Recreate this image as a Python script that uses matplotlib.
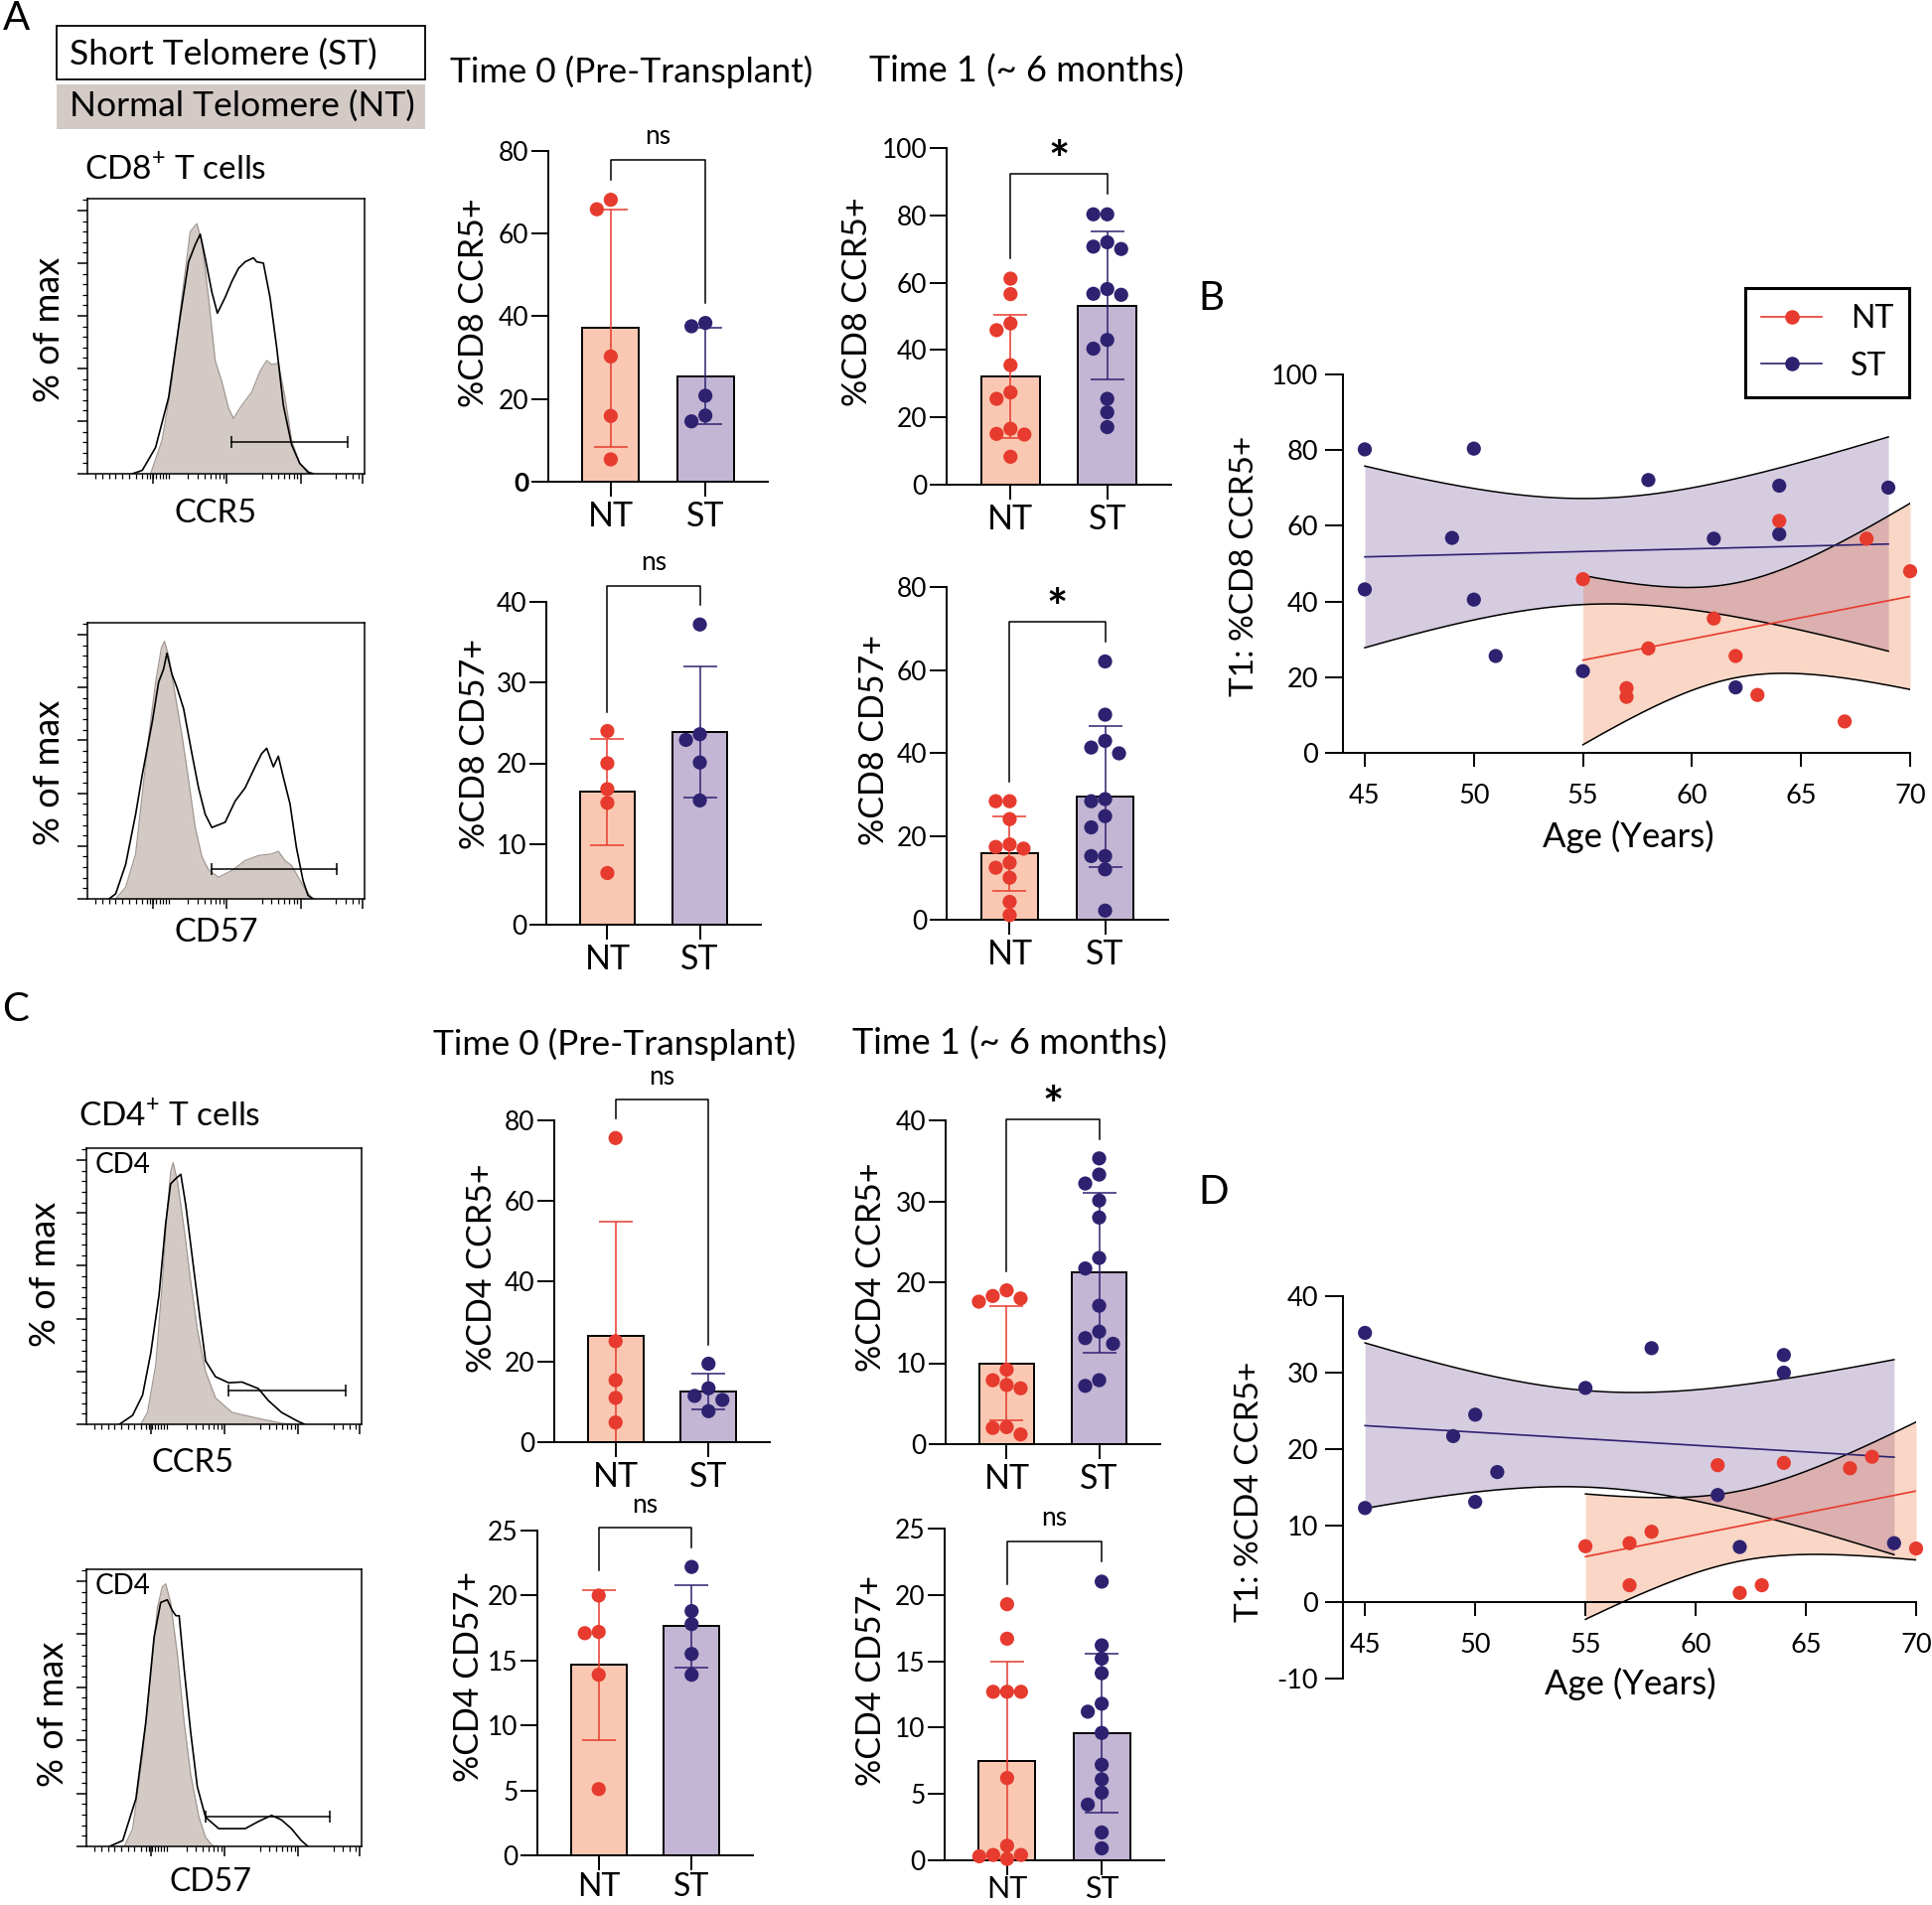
import numpy as np
import matplotlib
matplotlib.use("Agg")
import matplotlib.pyplot as plt
from matplotlib.lines import Line2D
from matplotlib.patches import Rectangle
from matplotlib.ticker import MultipleLocator

W, H = 1945, 1918
plt.rcParams['font.family'] = ['Lato', 'DejaVu Sans']
plt.rcParams['mathtext.fontset'] = 'custom'
plt.rcParams['mathtext.rm'] = 'Lato'
plt.rcParams['axes.linewidth'] = 1.4
plt.rcParams['axes.unicode_minus'] = False

RED = '#E63B2E'
NAVY = '#2E2270'
NT_FILL = '#FAC8B2'
ST_FILL = '#C3B5D4'
GREY = '#D3CAC6'
NT_BAND = '#EB5F1B'
ST_BAND = '#5F3787'

# ---------------- bar charts: % positive cells per patient ----------------
groups = ['NT', 'ST']
cd8_ccr5_t0_nt = [68.2, 65.9, 30.3, 15.9, 5.4]
cd8_ccr5_t0_st = [38.4, 37.6, 20.8, 16.0, 14.6]
cd8_ccr5_t1_nt = [61.2, 56.6, 47.9, 45.9, 35.5, 27.4, 25.5, 16.6, 15.1, 14.9, 8.3]
cd8_ccr5_t1_st = [80.3, 80.3, 72.0, 70.7, 70.0, 58.1, 56.7, 56.4, 43.0, 40.4, 25.5, 21.5, 17.1]
cd8_cd57_t0_nt = [24.0, 20.0, 16.8, 15.1, 6.4]
cd8_cd57_t0_st = [37.2, 23.6, 22.9, 20.1, 15.4]
cd8_cd57_t1_nt = [28.5, 28.5, 24.2, 18.1, 17.5, 17.1, 13.7, 12.5, 10.1, 4.3, 1.1]
cd8_cd57_t1_st = [62.1, 49.3, 43.0, 41.4, 40.0, 29.0, 28.5, 24.9, 22.2, 15.3, 15.3, 12.1, 2.2]
cd4_ccr5_t0_nt = [75.6, 25.1, 15.4, 11.0, 4.9]
cd4_ccr5_t0_st = [19.5, 13.4, 11.5, 10.5, 7.7]
cd4_ccr5_t1_nt = [19.0, 18.3, 18.0, 17.6, 9.2, 7.9, 7.3, 6.9, 2.1, 2.0, 1.2]
cd4_ccr5_t1_st = [35.3, 33.3, 32.2, 30.1, 28.0, 23.0, 21.7, 17.1, 13.9, 13.1, 12.4, 7.9, 7.2]
cd4_cd57_t0_nt = [20.0, 17.2, 17.1, 13.9, 5.1]
cd4_cd57_t0_st = [22.2, 18.8, 17.8, 15.5, 13.9]
cd4_cd57_t1_nt = [19.3, 16.7, 12.7, 12.7, 12.7, 6.2, 1.1, 0.4, 0.4, 0.3, 0.1]
cd4_cd57_t1_st = [21.0, 16.2, 15.2, 14.1, 11.8, 11.2, 9.6, 7.2, 6.1, 5.1, 4.2, 2.1, 0.9]
signif = {'cd8_ccr5_t0': 'ns', 'cd8_ccr5_t1': '*', 'cd8_cd57_t0': 'ns', 'cd8_cd57_t1': '*',
          'cd4_ccr5_t0': 'ns', 'cd4_ccr5_t1': '*', 'cd4_cd57_t0': 'ns', 'cd4_cd57_t1': 'ns'}

# ---------------- T1 CCR5+ vs age ----------------
cd8_nt_age = [55, 57, 57, 58, 61, 62, 63, 64, 67, 68, 70]
cd8_nt_val = [45.9, 17.1, 14.8, 27.6, 35.5, 25.6, 15.3, 61.3, 8.3, 56.6, 48.0]
cd8_st_age = [45, 45, 49, 50, 50, 51, 55, 58, 61, 62, 64, 64, 69]
cd8_st_val = [80.2, 43.2, 56.8, 80.4, 40.5, 25.6, 21.6, 72.1, 56.6, 17.3, 70.6, 57.8, 70.1]
cd4_nt_age = [55, 57, 57, 58, 61, 62, 63, 64, 67, 68, 70]
cd4_nt_val = [7.3, 7.7, 2.2, 9.2, 17.9, 1.2, 2.2, 18.2, 17.5, 19.0, 7.0]
cd4_st_age = [45, 45, 49, 50, 50, 51, 55, 58, 61, 62, 64, 64, 69]
cd4_st_val = [35.2, 12.3, 21.7, 24.5, 13.1, 17.0, 28.0, 33.2, 14.0, 7.2, 32.3, 30.0, 7.7]
T975 = {9: 2.262, 11: 2.201}

# ---------------- flow histograms (x = fraction of axis, y = % of max) ----------------
h_cd8_ccr5_nt_x = [0.228, 0.269, 0.305, 0.341, 0.371, 0.395, 0.413, 0.437, 0.461, 0.485, 0.509, 0.527,
                   0.557, 0.593, 0.623, 0.647, 0.665, 0.689, 0.713, 0.737, 0.766, 0.802, 0.820]
h_cd8_ccr5_nt_y = [0, 12.6, 35, 67, 92, 95, 88, 67, 43, 35, 25, 21, 26, 31, 39, 43, 41.5, 42, 29, 12.6, 3.8, 0.6, 0]
h_cd8_ccr5_st_x = [0.162, 0.198, 0.246, 0.293, 0.335, 0.365, 0.389, 0.407, 0.425, 0.449, 0.469, 0.497, 0.521,
                   0.545, 0.569, 0.599, 0.611, 0.635, 0.659, 0.683, 0.707, 0.737, 0.766, 0.796, 0.814]
h_cd8_ccr5_st_y = [0, 1.3, 10, 29, 60, 80.5, 87, 91, 82, 69, 61, 67, 73, 78, 80.5, 82, 80.5, 80, 67, 48, 26,
                   11, 4, 0.6, 0]
h_cd8_cd57_nt_x = [0.102, 0.138, 0.174, 0.198, 0.222, 0.246, 0.267, 0.278, 0.293, 0.317, 0.341, 0.365, 0.389,
                   0.413, 0.437, 0.473, 0.521, 0.569, 0.617, 0.665, 0.689, 0.713, 0.737, 0.761, 0.785, 0.808, 0.820]
h_cd8_cd57_nt_y = [0, 4.4, 17, 39.6, 62, 82, 95, 97.5, 92, 77, 62, 45, 27, 16, 11, 8.2, 10.7, 14.5, 16.4, 17,
                   18, 14.5, 12.6, 8.2, 3.8, 0.6, 0]
h_cd8_cd57_st_x = [0.078, 0.102, 0.138, 0.174, 0.198, 0.234, 0.257, 0.275, 0.287, 0.305, 0.323, 0.347, 0.377,
                   0.401, 0.425, 0.449, 0.497, 0.533, 0.569, 0.605, 0.629, 0.647, 0.671, 0.689, 0.707, 0.731,
                   0.754, 0.778, 0.796, 0.814]
h_cd8_cd57_st_y = [0, 1.9, 13, 32, 47, 67, 82, 87, 93, 85, 80, 72, 55, 42, 32, 27, 29, 37, 42, 50, 55, 57, 50,
                   54, 46, 36, 19.5, 7, 1.3, 0]
h_cd4_ccr5_nt_x = [0.198, 0.222, 0.252, 0.276, 0.294, 0.306, 0.315, 0.331, 0.355, 0.379, 0.403, 0.433, 0.469,
                   0.529, 0.625, 0.709, 0.745]
h_cd4_ccr5_nt_y = [0, 4.5, 22.5, 54, 81, 95.5, 99, 92, 74, 54, 36, 20, 10, 4.5, 2.2, 0.4, 0]
h_cd4_ccr5_st_x = [0.120, 0.168, 0.204, 0.234, 0.264, 0.288, 0.306, 0.325, 0.343, 0.361, 0.385, 0.409, 0.433,
                   0.469, 0.517, 0.565, 0.625, 0.661, 0.709, 0.769, 0.793]
h_cd4_ccr5_st_y = [0, 3.4, 11, 27, 49, 76, 91, 93, 94.6, 83, 63, 43, 24, 18, 15.7, 16, 13.5, 9, 4.5, 1.1, 0]
h_cd4_cd57_nt_x = [0.138, 0.168, 0.204, 0.234, 0.258, 0.276, 0.288, 0.306, 0.331, 0.355, 0.379, 0.409, 0.433,
                   0.457, 0.481]
h_cd4_cd57_nt_y = [0, 6.7, 34, 65, 90, 98, 99, 92, 72, 47, 27, 11, 3.4, 0.4, 0]
h_cd4_cd57_st_x = [0.084, 0.132, 0.180, 0.216, 0.246, 0.270, 0.294, 0.312, 0.325, 0.337, 0.355, 0.379, 0.403,
                   0.433, 0.481, 0.529, 0.577, 0.625, 0.673, 0.709, 0.745, 0.781, 0.805]
h_cd4_cd57_st_y = [0, 2.2, 18, 47, 79, 92, 93, 89, 87, 87, 67, 43, 22.5, 11, 6.7, 6.7, 6.7, 9.4, 11.7, 10,
                   6.7, 2.2, 0]
gate_cd8_ccr5 = (0.521, 0.940, 12.0)
gate_cd8_cd57 = (0.449, 0.898, 11.3)
gate_cd4_ccr5 = (0.517, 0.944, 12.8)
gate_cd4_cd57 = (0.433, 0.883, 11.2)

fig = plt.figure(figsize=(W / 100, H / 100), dpi=100)


def px_axes(box):
    x0, y0, x1, y1 = box
    return fig.add_axes([x0 / W, 1 - y1 / H, (x1 - x0) / W, (y1 - y0) / H])


def ftext(x, y, s, **kw):
    kw.setdefault('ha', 'center')
    kw.setdefault('va', 'center')
    fig.text(x / W, 1 - y / H, s, **kw)


def swarm(vals, ypx, xpx, d=14):
    # simple beeswarm: keep dots from overlapping, working in pixels
    order = np.argsort(-np.asarray(vals))
    placed, offs = [], np.zeros(len(vals))
    for i in order:
        y = vals[i] * ypx
        for k in [0, -1, 1, -2, 2, -3, 3]:
            x = k * d
            if all((x - px) ** 2 + (y - py) ** 2 >= (0.92 * d) ** 2 for px, py in placed):
                break
        placed.append((x, y))
        offs[i] = x / xpx
    return offs


def bar_panel(box, nt, st, ymax, ystep, ylabel, lab_xy, sig, bold_zero=False, xlab_size=24.5, xpad=3):
    x0, y0, x1, y1 = box
    ax = px_axes(box)
    ax.set_xlim(-0.66, 1.66)
    ax.set_ylim(0, ymax)
    ypx = (y1 - y0) / ymax
    xpx = (x1 - x0) / 2.32
    tops = []
    for i, (vals, fc, mc) in enumerate([(nt, NT_FILL, RED), (st, ST_FILL, NAVY)]):
        v = np.array(vals)
        m, sd = v.mean(), v.std(ddof=1)
        ax.bar(i, m, 0.6, color=fc, edgecolor='black', linewidth=1.4, zorder=1)
        ax.errorbar(i, m, yerr=sd, color=mc, lw=1.1, capsize=12, capthick=1.1, zorder=2)
        ax.scatter(i + swarm(v, ypx, xpx), v, s=105, color=mc, edgecolor='none', zorder=3, clip_on=False)
        tops.append(max(v.max(), m + sd))
    gap = 0.06 * ymax
    legs = [t + gap for t in tops]
    top = max(legs) + gap
    ax.plot([0, 0, 1, 1], [legs[0], top, top, legs[1]], color='black', lw=1.1, clip_on=False)
    if sig == '*':
        ax.text(0.5, top + 0.035 * ymax, '*', ha='center', va='center', fontsize=36, fontweight='bold')
    else:
        ax.text(0.5, top + 0.07 * ymax, sig, ha='center', va='center', fontsize=19)
    ax.spines[['top', 'right']].set_visible(False)
    ax.set_yticks(np.arange(0, ymax + 0.1, ystep))
    ax.set_xticks([0, 1])
    ax.set_xticklabels(groups)
    ax.tick_params(axis='y', length=12, width=1.4, labelsize=19, pad=2)
    ax.tick_params(axis='x', length=11, width=1.4, labelsize=xlab_size, pad=xpad)
    if bold_zero:
        ax.get_yticklabels()[0].set_fontweight('bold')
    ax.set_ylabel(ylabel, fontsize=24.5)
    ax.yaxis.set_label_coords((lab_xy[0] - x0) / (x1 - x0), (y1 - lab_xy[1]) / (y1 - y0))
    ax.yaxis.label.set_va('center')
    return ax


def hist_panel(box, nt_x, nt_y, st_x, st_y, gate, inner=None):
    ax = px_axes(box)
    ax.set_xlim(0, 1)
    ax.set_ylim(0, 104.5)
    ax.fill_between(nt_x, nt_y, color=GREY, lw=0, zorder=1)
    ax.plot(nt_x, nt_y, color='#A39893', lw=0.9, zorder=2)
    ax.plot(st_x, st_y, color='black', lw=1.2, zorder=3)
    g0, g1, gy = gate
    ax.plot([g0, g1], [gy, gy], color='black', lw=1.1, marker='|', ms=9, mew=1.1, zorder=4)
    for sp in ax.spines.values():
        sp.set_linewidth(1.1)
    ax.set_yticks(np.arange(0, 101, 20))
    ax.yaxis.set_minor_locator(MultipleLocator(4))
    dec = 0.267
    major = [0.236, 0.503, 0.770, 0.994]
    minor = list(np.arange(0.03, 0.205, 0.024)) + list(np.arange(0.216, 0.295, 0.011))
    for d0 in major[:3]:
        minor += [d0 + dec * np.log10(k) for k in range(3, 10) if d0 + dec * np.log10(k) < 0.99]
    ax.set_xticks(major)
    ax.set_xticks(minor, minor=True)
    ax.tick_params(which='major', length=7, width=1.1, labelleft=False, labelbottom=False)
    ax.tick_params(which='minor', length=3.5, width=0.9)
    if inner:
        ax.text(0.03, 0.94, inner, transform=ax.transAxes, ha='left', va='center', fontsize=20)
    return ax


def reg_panel(box, ylim, ystep, nt_age, nt_val, st_age, st_val, ylabel, ylab_xy, xlab_xy, zero_axis=False):
    x0, y0, x1, y1 = box
    ax = px_axes(box)
    ax.set_xlim(44, 70)
    ax.set_ylim(*ylim)
    sets = [(st_age, st_val, NAVY, ST_BAND), (nt_age, nt_val, RED, NT_BAND)]
    curves = []
    for age, val, col, band in sets:
        x = np.array(age, float)
        y = np.array(val, float)
        n = len(x)
        b, a = np.polyfit(x, y, 1)
        s = np.sqrt(((y - (a + b * x)) ** 2).sum() / (n - 2))
        xs = np.linspace(x.min(), x.max(), 200)
        fit = a + b * xs
        ci = T975[n - 2] * s * np.sqrt(1 / n + (xs - x.mean()) ** 2 / ((x - x.mean()) ** 2).sum())
        ax.fill_between(xs, fit - ci, fit + ci, color=band, alpha=0.25, lw=0, zorder=1)
        curves.append((xs, fit, ci, col))
    for xs, fit, ci, col in curves:
        ax.plot(xs, fit + ci, color='black', lw=1.1, zorder=2)
        ax.plot(xs, fit - ci, color='black', lw=1.1, zorder=2)
        ax.plot(xs, fit, color=col, lw=1.2, zorder=3)
    for age, val, col, band in sets:
        ax.scatter(age, val, s=105, color=col, edgecolor='none', zorder=4, clip_on=False)
    ax.spines[['top', 'right']].set_visible(False)
    if zero_axis:
        ax.spines['bottom'].set_position(('data', 0))
    ax.set_xticks(np.arange(45, 71, 5))
    ax.set_yticks(np.arange(ylim[0], ylim[1] + 0.1, ystep))
    ax.tick_params(axis='x', length=10, width=1.4, labelsize=19.5, pad=12)
    ax.tick_params(axis='y', length=13, width=1.4, labelsize=19.5, pad=5)
    ax.set_ylabel(ylabel, fontsize=24)
    ax.yaxis.set_label_coords((ylab_xy[0] - x0) / (x1 - x0), (y1 - ylab_xy[1]) / (y1 - y0))
    ax.yaxis.label.set_va('center')
    ax.set_xlabel('Age (Years)', fontsize=25)
    ax.xaxis.set_label_coords((xlab_xy[0] - x0) / (x1 - x0), (y1 - xlab_xy[1]) / (y1 - y0))
    ax.xaxis.label.set_va('center')
    return ax


# ---- panel A ----
ftext(3, 19, 'A', fontsize=29, ha='left')
fig.add_artist(Rectangle((57 / W, 1 - 80 / H), 371 / W, 54 / H, transform=fig.transFigure,
                         facecolor='white', edgecolor='black', lw=1.3))
fig.add_artist(Rectangle((57 / W, 1 - 130 / H), 371 / W, 45 / H, transform=fig.transFigure,
                         facecolor=GREY, edgecolor='none'))
ftext(70, 55, 'Short Telomere (ST)', fontsize=25.5, ha='left')
ftext(70, 107, 'Normal Telomere (NT)', fontsize=25.5, ha='left')
ftext(85, 170, 'CD8$^{+}$ T cells', fontsize=24, ha='left')
ftext(636, 72, 'Time 0 (Pre-Transplant)', fontsize=25.5)
ftext(1033, 72, 'Time 1 (~ 6 months)', fontsize=26)

hist_panel((88, 200, 367, 477), h_cd8_ccr5_nt_x, h_cd8_ccr5_nt_y, h_cd8_ccr5_st_x, h_cd8_ccr5_st_y, gate_cd8_ccr5)
ftext(49, 332, '% of max', fontsize=26, rotation=90)
ftext(217, 517, 'CCR5', fontsize=23.5)
hist_panel((88, 627, 367, 905), h_cd8_cd57_nt_x, h_cd8_cd57_nt_y, h_cd8_cd57_st_x, h_cd8_cd57_st_y, gate_cd8_cd57)
ftext(49, 778, '% of max', fontsize=26, rotation=90)
ftext(218, 939, 'CD57', fontsize=23.5)

bar_panel((552, 152, 773, 485), cd8_ccr5_t0_nt, cd8_ccr5_t0_st, 80, 20, '%CD8 CCR5+', (477, 305),
          signif['cd8_ccr5_t0'], bold_zero=True)
bar_panel((953, 149, 1179, 488), cd8_ccr5_t1_nt, cd8_ccr5_t1_st, 100, 20, '%CD8 CCR5+', (863, 304),
          signif['cd8_ccr5_t1'])
bar_panel((550, 606, 766, 931), cd8_cd57_t0_nt, cd8_cd57_t0_st, 40, 10, '%CD8 CD57+', (478, 749),
          signif['cd8_cd57_t0'])
bar_panel((953, 591, 1176, 926), cd8_cd57_t1_nt, cd8_cd57_t1_st, 80, 20, '%CD8 CD57+', (880, 745),
          signif['cd8_cd57_t1'])

# ---- panel B ----
ftext(1206, 300, 'B', fontsize=29, ha='left')
reg_panel((1352, 377, 1923, 758), (0, 100), 20, cd8_nt_age, cd8_nt_val, cd8_st_age, cd8_st_val,
          'T1: %CD8 CCR5+', (1253, 570), (1639, 842))
handles = [Line2D([0], [0], color=RED, lw=1.2, marker='o', ms=10.5, mec='none'),
           Line2D([0], [0], color=NAVY, lw=1.2, marker='o', ms=10.5, mec='none')]
leg = fig.legend(handles, groups, loc='upper right', bbox_to_anchor=(1922 / W, 1 - 290 / H), fontsize=23,
                 frameon=True, fancybox=False, edgecolor='black', framealpha=1, handlelength=1.9,
                 borderpad=0.5, labelspacing=0.55, handletextpad=0.9, borderaxespad=0)
leg.get_frame().set_linewidth(2.2)

# ---- panel C ----
ftext(2, 1016, 'C', fontsize=29, ha='left')
ftext(79, 1123, 'CD4$^{+}$ T cells', fontsize=24, ha='left')
ftext(619, 1051, 'Time 0 (Pre-Transplant)', fontsize=25.5)
ftext(1016, 1051, 'Time 1 (~ 6 months)', fontsize=26)
hist_panel((87, 1156, 364, 1434), h_cd4_ccr5_nt_x, h_cd4_ccr5_nt_y, h_cd4_ccr5_st_x, h_cd4_ccr5_st_y,
           gate_cd4_ccr5, inner='CD4')
ftext(46, 1283, '% of max', fontsize=26, rotation=90)
ftext(194, 1473, 'CCR5', fontsize=23.5)
hist_panel((87, 1580, 364, 1859), h_cd4_cd57_nt_x, h_cd4_cd57_nt_y, h_cd4_cd57_st_x, h_cd4_cd57_st_y,
           gate_cd4_cd57, inner='CD4')
ftext(53, 1726, '% of max', fontsize=26, rotation=90)
ftext(212, 1895, 'CD57', fontsize=23)

bar_panel((558, 1128, 775, 1452), cd4_ccr5_t0_nt, cd4_ccr5_t0_st, 80, 20, '%CD4 CCR5+', (485, 1277),
          signif['cd4_ccr5_t0'])
bar_panel((952, 1128, 1168, 1454), cd4_ccr5_t1_nt, cd4_ccr5_t1_st, 40, 10, '%CD4 CCR5+', (877, 1276),
          signif['cd4_ccr5_t1'])
bar_panel((541, 1541, 758, 1868), cd4_cd57_t0_nt, cd4_cd57_t0_st, 25, 5, '%CD4 CD57+', (472, 1688),
          signif['cd4_cd57_t0'], xlab_size=23, xpad=1)
bar_panel((951, 1539, 1172, 1873), cd4_cd57_t1_nt, cd4_cd57_t1_st, 25, 5, '%CD4 CD57+', (877, 1692),
          signif['cd4_cd57_t1'], xlab_size=22, xpad=0)

# ---- panel D ----
ftext(1206, 1201, 'D', fontsize=29, ha='left')
reg_panel((1352, 1305, 1929, 1690), (-10, 40), 10, cd4_nt_age, cd4_nt_val, cd4_st_age, cd4_st_val,
          'T1: %CD4 CCR5+', (1258, 1502), (1641, 1695), zero_axis=True)

fig.savefig('out.png', dpi=100)
